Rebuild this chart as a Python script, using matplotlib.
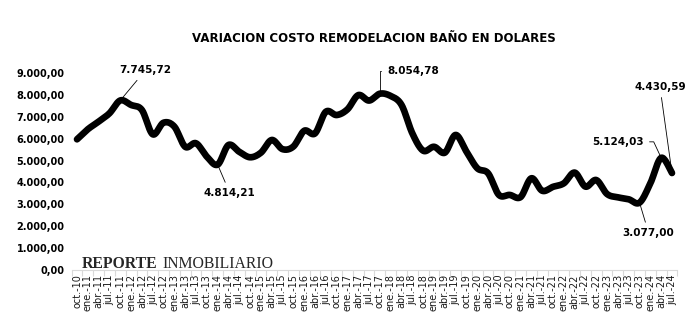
import numpy as np
import matplotlib
matplotlib.use("Agg")
import matplotlib.pyplot as plt
from matplotlib.ticker import FuncFormatter, FixedLocator

# ---- data ----
periods = ["oct.-10", "ene.-11", "abr.-11", "jul.-11", "oct.-11", "ene.-12", "abr.-12", "jul.-12",
           "oct.-12", "ene.-13", "abr.-13", "jul.-13", "oct.-13", "ene.-14", "abr.-14", "jul.-14",
           "oct.-14", "ene.-15", "abr.-15", "jul.-15", "oct.-15", "ene.-16", "abr.-16", "jul.-16",
           "oct.-16", "ene.-17", "abr.-17", "jul.-17", "oct.-17", "ene.-18", "abr.-18", "jul.-18",
           "oct.-18", "ene.-19", "abr.-19", "jul.-19", "oct.-19", "ene.-20", "abr.-20", "jul.-20",
           "oct.-20", "ene.-21", "abr.-21", "jul.-21", "oct.-21", "ene.-22", "abr.-22", "jul.-22",
           "oct.-22", "ene.-23", "abr.-23", "jul.-23", "oct.-23", "ene.-24", "abr.-24", "jul.-24"]
costs = [5970, 6430, 6780, 7160, 7745.72, 7540, 7310, 6200,
         6730, 6550, 5630, 5790, 5180, 4814.21, 5710, 5400,
         5150, 5360, 5940, 5520, 5640, 6360, 6240, 7230,
         7080, 7340, 7990, 7740, 8054.78, 7950, 7540, 6240,
         5450, 5630, 5360, 6170, 5410, 4650, 4420, 3430,
         3430, 3330, 4190, 3620, 3800, 3960, 4450, 3810,
         4110, 3470, 3320, 3230, 3077.00, 3960, 5124.03, 4430.59]
yticks = [0, 1000, 2000, 3000, 4000, 5000, 6000, 7000, 8000, 9000]
# labelled points: index, label
labelled = [(4, "7.745,72"), (13, "4.814,21"), (28, "8.054,78"),
            (52, "3.077,00"), (54, "5.124,03"), (55, "4.430,59")]

title = "VARIACION COSTO REMODELACION BAÑO EN DOLARES"


def es_fmt(v, pos=None):
    s = f"{v:,.2f}"
    return s.replace(",", "X").replace(".", ",").replace("X", ".")


def smooth(xs, ys, n=20):
    # Catmull-Rom (Excel-style smoothed line) through the data points
    xs = np.asarray(xs, float)
    ys = np.asarray(ys, float)
    px = np.concatenate([[xs[0]], xs, [xs[-1]]])
    py = np.concatenate([[ys[0]], ys, [ys[-1]]])
    ox, oy = [], []
    t = np.linspace(0, 1, n, endpoint=False)
    for i in range(1, len(px) - 2):
        p0, p1, p2, p3 = px[i - 1], px[i], px[i + 1], px[i + 2]
        q0, q1, q2, q3 = py[i - 1], py[i], py[i + 1], py[i + 2]
        c1x, c1y = p1 + (p2 - p0) / 6, q1 + (q2 - q0) / 6
        c2x, c2y = p2 - (p3 - p1) / 6, q2 - (q3 - q1) / 6
        b0, b1, b2, b3 = (1 - t) ** 3, 3 * (1 - t) ** 2 * t, 3 * (1 - t) * t ** 2, t ** 3
        ox.extend(b0 * p1 + b1 * c1x + b2 * c2x + b3 * p2)
        oy.extend(b0 * q1 + b1 * c1y + b2 * c2y + b3 * q2)
    ox.append(xs[-1])
    oy.append(ys[-1])
    return np.array(ox), np.array(oy)


W, H = 697, 335
fig = plt.figure(figsize=(W / 100, H / 100), dpi=100)
ax = fig.add_axes([71.6 / W, 1 - 270 / H, (677.4 - 71.6) / W, (270 - 73) / H])

x = np.arange(len(costs))
sx, sy = smooth(x, costs)
ax.plot(sx, sy, color="black", lw=4.8, solid_capstyle="round", solid_joinstyle="round", zorder=3)

ax.set_xlim(-0.5, len(costs) - 0.5)
ax.set_ylim(0, 9000)

for s in ["top", "right", "left"]:
    ax.spines[s].set_visible(False)
ax.spines["bottom"].set_color("#d9d9d9")
ax.spines["bottom"].set_linewidth(0.8)

ax.set_xticks(x)
ax.set_xticklabels(periods, rotation=90, fontsize=7, color="#1a1a1a")
ax.xaxis.set_minor_locator(FixedLocator(np.arange(-0.5, len(costs), 1)))
ax.tick_params(axis="x", which="major", length=0, pad=3)
ax.tick_params(axis="x", which="minor", length=4, color="#d9d9d9", width=0.8)

ax.set_yticks(yticks)
ax.yaxis.set_major_formatter(FuncFormatter(es_fmt))
ax.tick_params(axis="y", length=0, pad=5, labelsize=7)
for lab in ax.get_yticklabels():
    lab.set_fontweight("bold")

# annotations (offsets in pixels)
offsets = {4: (25, 30), 13: (12, -28), 28: (33, 23), 52: (9, -30), 54: (-43, 16), 55: (-12, 86)}
for i, txt in labelled:
    dx, dy = offsets[i]
    cs = "arc3"
    if i == 28:
        cs = "angle,angleA=0,angleB=90,rad=0"
    elif i == 54:
        cs = "angle,angleA=0,angleB=115,rad=0"
    ax.annotate(txt, xy=(i, costs[i]), xytext=(dx * 0.72, dy * 0.72), textcoords="offset points",
                ha="center", va="center", fontsize=7.5, fontweight="bold",
                arrowprops=dict(arrowstyle="-", lw=0.6, color="black", shrinkA=2, shrinkB=0,
                                connectionstyle=cs), zorder=4)

fig.text(374 / W, 1 - 38 / H, title, ha="center", va="center", fontsize=8.5, fontweight="bold")

fig.text(82 / W, 1 - 268 / H, "REPORTE", family="Liberation Serif", fontweight="bold",
         fontsize=11.3, color="#262626", va="baseline", ha="left")
fig.text(162 / W, 1 - 268 / H, "INMOBILIARIO", family="Liberation Serif",
         fontsize=11.3, color="#262626", va="baseline", ha="left")

fig.savefig("out.png", dpi=100)
